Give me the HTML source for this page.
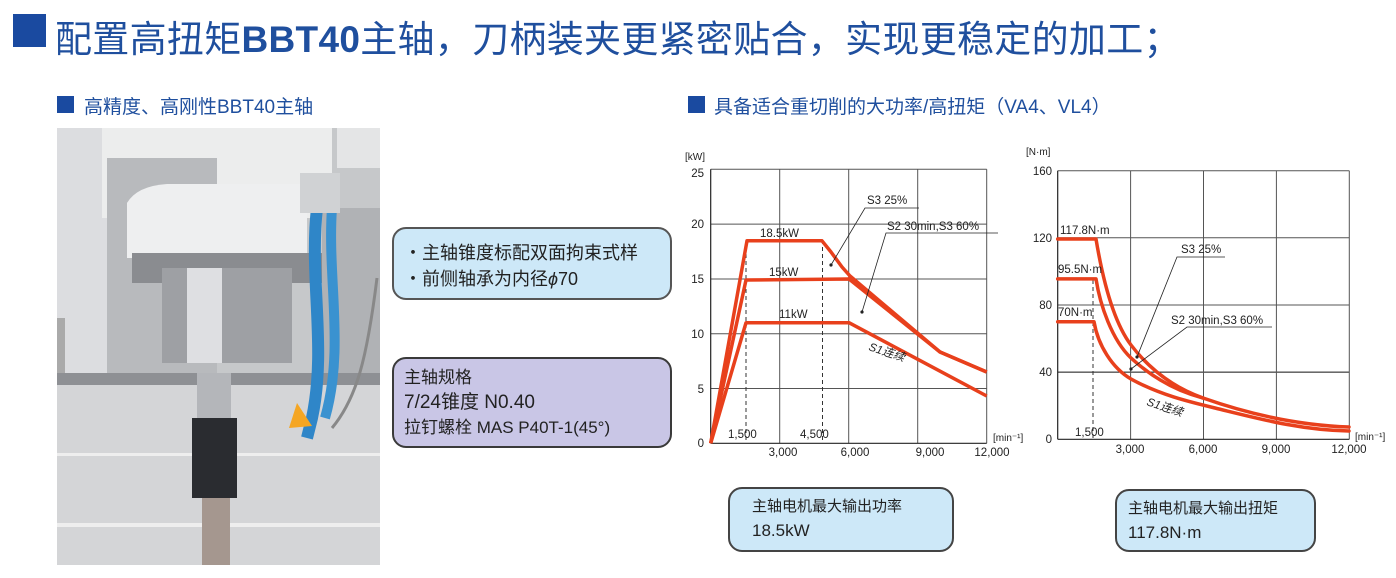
<!DOCTYPE html>
<html><head><meta charset="utf-8"><style>
*{margin:0;padding:0;box-sizing:border-box}
body{width:1396px;height:578px;background:#fff;position:relative;overflow:hidden;font-family:"Liberation Sans","Noto Sans CJK SC",sans-serif}
.a{position:absolute}
.t1{left:55px;top:9px;font-size:37px;color:#1f4f9e;white-space:nowrap;letter-spacing:0.3px}
.sq{background:#1a4aa0}
.h2{font-size:19px;color:#1f4f9e;white-space:nowrap}
.box{border:2px solid #3a3a3a;border-radius:14px}
</style></head><body>
<div class="a sq" style="left:13px;top:14px;width:33px;height:33px"></div>
<div class="a t1">配置高扭矩<b>BBT40</b>主轴，刀柄装夹更紧密贴合，实现更稳定的加工；</div>
<div class="a sq" style="left:57px;top:96px;width:17px;height:17px"></div>
<div class="a h2" style="left:84px;top:92px">高精度、高刚性BBT40主轴</div>
<div class="a sq" style="left:688px;top:96px;width:17px;height:17px"></div>
<div class="a h2" style="left:714px;top:92px">具备适合重切削的大功率/高扭矩（VA4、VL4）</div>

<svg class="a" style="left:57px;top:128px" width="323" height="437">
<rect width="323" height="437" fill="#c6c8ca"/>
<rect x="0" y="0" width="50" height="360" fill="#dcdde0"/>
<rect x="0" y="190" width="8" height="180" fill="#aaa"/>
<rect x="45" y="0" width="230" height="90" fill="#eceded"/>
<rect x="280" y="0" width="43" height="40" fill="#e4e5e6"/>
<rect x="50" y="30" width="110" height="240" fill="#b8babd"/>
<path d="M70,75 Q80,58 110,56 L250,56 L250,130 L70,130 Z" fill="#eeeff0"/>
<rect x="75" y="125" width="190" height="30" fill="#8a8c90"/>
<rect x="105" y="140" width="130" height="95" fill="#9ea0a4"/>
<rect x="130" y="140" width="35" height="95" fill="#dedfe2"/>
<rect x="265" y="80" width="58" height="180" fill="#b0b2b5"/>
<rect x="0" y="245" width="323" height="12" fill="#8e9094"/>
<rect x="0" y="257" width="323" height="180" fill="#d4d5d7"/>
<rect x="0" y="395" width="323" height="4" fill="#eeeeee"/>
<rect x="0" y="325" width="323" height="3" fill="#eeeeee"/>
<rect x="140" y="245" width="34" height="45" fill="#b4b6ba"/>
<rect x="135" y="290" width="45" height="80" fill="#2a2c30"/>
<rect x="145" y="370" width="28" height="115" fill="#a5978f"/>
<path d="M260,80 C252,150 270,220 255,290 L250,310" stroke="#2f86c8" stroke-width="12" fill="none"/>
<path d="M275,80 C270,150 288,220 268,290" stroke="#3a92d0" stroke-width="10" fill="none"/>
<path d="M240,275 L232,300 L255,298 Z" fill="#f5a623"/>
<path d="M320,150 C310,230 300,270 275,300" stroke="#888" stroke-width="3" fill="none"/>
<rect x="243" y="45" width="40" height="40" fill="#d0d2d4"/>
</svg>

<div class="a box" style="left:392px;top:227px;width:280px;height:73px;background:#cde8f8;border-color:#555"></div>
<div class="a" style="left:404px;top:240px;font-size:18px;line-height:26px;color:#222">・主轴锥度标配双面拘束式样<br>・前侧轴承为内径<i>ϕ</i>70</div>
<div class="a box" style="left:392px;top:357px;width:280px;height:91px;background:#c9c6e6"></div>
<div class="a" style="left:404px;top:365px;font-size:17px;line-height:25px;color:#222">主轴规格<br><span style="font-size:19px">7/24锥度 N0.40</span><br>拉钉螺栓 MAS P40T-1(45°)</div>

<svg class="a" style="left:0;top:0" width="1396" height="578" font-family="Liberation Sans, Noto Sans CJK SC, sans-serif" font-size="11.5" fill="#222">
<g stroke="#555" stroke-width="1">
<line x1="710.7" y1="169.3" x2="986.7" y2="169.3"/><line x1="710.7" y1="224.1" x2="986.7" y2="224.1"/>
<line x1="710.7" y1="279" x2="986.7" y2="279"/><line x1="710.7" y1="333.8" x2="986.7" y2="333.8"/>
<line x1="710.7" y1="388.5" x2="986.7" y2="388.5"/>
<line x1="779.7" y1="169.3" x2="779.7" y2="443.3"/><line x1="848.7" y1="169.3" x2="848.7" y2="443.3"/>
<line x1="917.7" y1="169.3" x2="917.7" y2="443.3"/><line x1="986.7" y1="169.3" x2="986.7" y2="443.3"/>
</g>
<line x1="710.7" y1="169.3" x2="710.7" y2="443.3" stroke="#222" stroke-width="1.2"/>
<line x1="710.7" y1="443.3" x2="986.7" y2="443.3" stroke="#222" stroke-width="1.2"/>
<g stroke="#333" stroke-dasharray="4,3"><line x1="746" y1="240" x2="746" y2="443"/><line x1="822.5" y1="240" x2="822.5" y2="443"/></g>
<g fill="none" stroke="#e8401c" stroke-width="3.5" stroke-linejoin="round">
<polyline points="710.7,443.3 747,240.8 822,240.8 831,252 842,267 850,276 940,352 986.7,372"/>
<polyline points="710.7,443.3 746,280 849,279 940,352 986.7,372"/>
<polyline points="710.7,443.3 746,322.7 849,322.7 986.7,396"/>
</g>
<g stroke="#222" stroke-width="0.8"><polyline points="831,265 865,208 919,208" fill="none"/><polyline points="862,312 886,233 998,233" fill="none"/></g>
<circle cx="831" cy="265" r="1.6"/><circle cx="862" cy="312" r="1.6"/>
<text x="685" y="160" font-size="10">[kW]</text>
<g text-anchor="end"><text x="704" y="177">25</text><text x="704" y="228">20</text><text x="704" y="283">15</text><text x="704" y="338">10</text><text x="704" y="393">5</text><text x="704" y="447">0</text></g>
<text x="760" y="237">18.5kW</text><text x="769" y="276">15kW</text><text x="779" y="318">11kW</text>
<text x="867" y="204">S3 25%</text><text x="887" y="230">S2 30min,S3 60%</text>
<text x="868" y="350" transform="rotate(18 868 350)" font-style="italic">S1连续</text>
<text x="728" y="438">1,500</text><text x="800" y="438">4,500</text>
<text x="993" y="441" font-size="10">[min⁻¹]</text>
<g text-anchor="middle"><text x="783" y="456">3,000</text><text x="855" y="456">6,000</text><text x="930" y="456">9,000</text><text x="992" y="456">12,000</text></g>

<g stroke="#555" stroke-width="1">
<line x1="1057.7" y1="170.7" x2="1349.3" y2="170.7"/><line x1="1057.7" y1="237.8" x2="1349.3" y2="237.8"/>
<line x1="1057.7" y1="305" x2="1349.3" y2="305"/><line x1="1057.7" y1="372.1" x2="1349.3" y2="372.1" stroke="#111"/>
<line x1="1130.6" y1="170.7" x2="1130.6" y2="439.3"/><line x1="1203.5" y1="170.7" x2="1203.5" y2="439.3"/>
<line x1="1276.4" y1="170.7" x2="1276.4" y2="439.3"/><line x1="1349.3" y1="170.7" x2="1349.3" y2="439.3"/>
</g>
<line x1="1057.7" y1="170.7" x2="1057.7" y2="439.3" stroke="#222" stroke-width="1.2"/>
<line x1="1057.7" y1="439.3" x2="1349.3" y2="439.3" stroke="#222" stroke-width="1.2"/>
<line x1="1093" y1="280" x2="1093" y2="439" stroke="#333" stroke-dasharray="4,3"/>
<g fill="none" stroke="#e8401c" stroke-width="3.5" stroke-linejoin="round" stroke-linecap="round">
<path d="M1057.7,239 L1096,239 C1102,275 1112,320 1131,345 C1150,370 1175,388 1203,398 C1240,411 1290,425 1349,427"/>
<path d="M1057.7,278.9 L1096,278.9 C1100,305 1112,340 1131,358 C1155,380 1180,392 1203,398"/>
<path d="M1057.7,321.7 L1094,321.7 C1098,345 1112,368 1131,379 C1160,395 1190,402 1215,408 C1260,419 1300,430 1349,431"/>
</g>
<g stroke="#222" stroke-width="0.8" fill="none"><polyline points="1137,357 1177,257 1225,257"/><polyline points="1131,369 1187,327 1272,327"/></g>
<circle cx="1137" cy="357" r="1.6"/><circle cx="1131" cy="369" r="1.6"/>
<text x="1026" y="155" font-size="10">[N·m]</text>
<g text-anchor="end"><text x="1052" y="175">160</text><text x="1052" y="242">120</text><text x="1052" y="309">80</text><text x="1052" y="376">40</text><text x="1052" y="443">0</text></g>
<text x="1060" y="234">117.8N·m</text><text x="1058" y="273">95.5N·m</text><text x="1058" y="316">70N·m</text>
<text x="1181" y="253">S3 25%</text><text x="1171" y="324">S2 30min,S3 60%</text>
<text x="1146" y="405" transform="rotate(18 1146 405)" font-style="italic">S1连续</text>
<text x="1075" y="436">1,500</text>
<text x="1355" y="440" font-size="10">[min⁻¹]</text>
<g text-anchor="middle"><text x="1130" y="453">3,000</text><text x="1203" y="453">6,000</text><text x="1276" y="453">9,000</text><text x="1349" y="453">12,000</text></g>
</svg>

<div class="a box" style="left:728px;top:487px;width:226px;height:65px;background:#cde8f8;border-color:#444"></div>
<div class="a" style="left:752px;top:495px;font-size:15px;line-height:24px;color:#222">主轴电机最大输出功率<br><span style="font-size:17px">18.5kW</span></div>
<div class="a box" style="left:1115px;top:489px;width:201px;height:63px;background:#cde8f8;border-color:#444"></div>
<div class="a" style="left:1128px;top:497px;font-size:15px;line-height:24px;color:#222">主轴电机最大输出扭矩<br><span style="font-size:17px">117.8N·m</span></div>
</body></html>
